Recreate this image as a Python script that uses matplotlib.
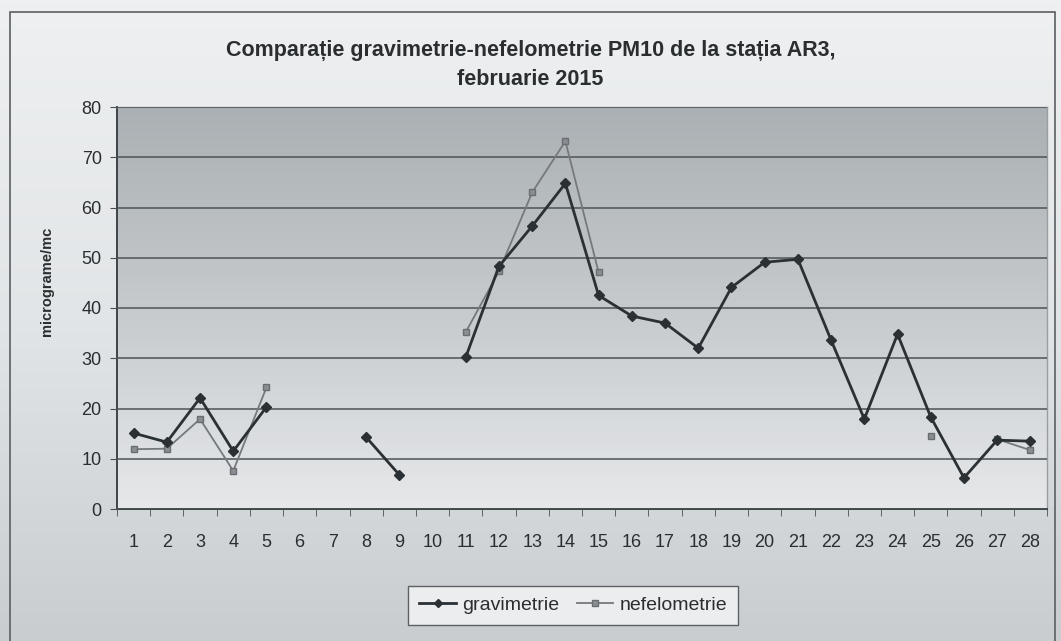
import numpy as np
import matplotlib.pyplot as plt
from matplotlib.colors import LinearSegmentedColormap
from matplotlib.patches import Rectangle

plt.rcParams['font.family'] = ['Liberation Sans', 'DejaVu Sans']

# ─── DATA ────────────────────────────────────────────────────────────────────
zile = list(range(1, 29))
nan = np.nan
gravimetrie = [15.1, 13.3, 22.1, 11.5, 20.3, nan, nan, 14.3, 6.8, nan,
               30.2, 48.3, 56.3, 64.8, 42.5, 38.4, 37.0, 32.0, 44.1, 49.1,
               49.7, 33.6, 17.9, 34.8, 18.3, 6.2, 13.7, 13.5]
nefelometrie = [11.9, 12.0, 17.9, 7.6, 24.2, nan, nan, nan, nan, nan,
                35.2, 47.3, 63.0, 73.2, 47.1, nan, nan, nan, nan, nan,
                nan, nan, nan, nan, 14.5, nan, 13.9, 11.7]

titlu = "Comparație gravimetrie-nefelometrie PM10 de la stația AR3,\nfebruarie 2015"
eticheta_y = "micrograme/mc"

# ─── FIGURE ──────────────────────────────────────────────────────────────────
fig = plt.figure(figsize=(10.61, 6.41), dpi=100)

# scanned-looking chart background (light on top, greyer at the bottom)
bg = fig.add_axes([0, 0, 1, 1], zorder=-2)
bg.imshow(np.linspace(0, 1, 200).reshape(-1, 1), aspect='auto',
          cmap=LinearSegmentedColormap.from_list(
              'bg', ['#eef0f1', '#e2e5e7', '#c9cdd0']),
          extent=[0, 1, 0, 1], origin='upper')
bg.set_xlim(0, 1); bg.set_ylim(0, 1)
bg.axis('off')
bg.add_patch(Rectangle((10 / 1061, -0.01), 1045 / 1061, 1 - 12 / 641 + 0.01,
                       fill=False, edgecolor='#5a5f63', linewidth=1.2))

ax = fig.add_axes([117 / 1061, 1 - 509 / 641, 930 / 1061, 402 / 641])

# plot area gradient
ax.imshow(np.linspace(0, 1, 200).reshape(-1, 1), aspect='auto',
          cmap=LinearSegmentedColormap.from_list(
              'pa', ['#aab0b3', '#c6cacd', '#e6e8ea']),
          extent=[0, 1, 0, 1], transform=ax.transAxes, origin='upper', zorder=0)

ax.plot(zile, nefelometrie, color='#75797d', linewidth=1.3, marker='s',
        markersize=5, markerfacecolor='#8a8e92', markeredgecolor='#6a6e72',
        label='nefelometrie', zorder=3)
ax.plot(zile, gravimetrie, color='#2b3034', linewidth=2.0, marker='D',
        markersize=5.5, markerfacecolor='#2b3034', markeredgecolor='#2b3034',
        label='gravimetrie', zorder=4)

ax.set_xlim(0.5, 28.5)
ax.set_ylim(0, 80)
ax.set_yticks(range(0, 81, 10))
ax.set_xticks(zile)
ax.set_xticks(np.arange(0.5, 29, 1), minor=True)
ax.tick_params(axis='x', which='major', length=0, pad=18, labelsize=13,
               colors='#2a2e31')
ax.tick_params(axis='x', which='minor', length=5, direction='out',
               color='#4a4f53')
ax.tick_params(axis='y', length=5, direction='out', labelsize=13,
               colors='#2a2e31', color='#4a4f53', pad=6)
ax.grid(axis='y', color='#4d5256', linewidth=1.1, zorder=1)
ax.set_axisbelow(False)
for s in ['top', 'right']:
    ax.spines[s].set_color('#9a9ea1')
    ax.spines[s].set_linewidth(1.0)
for s in ['left', 'bottom']:
    ax.spines[s].set_color('#3e4347')
    ax.spines[s].set_linewidth(1.4)

ax.set_ylabel(eticheta_y, fontsize=10.5, fontweight='bold', color='#2a2e31')
ax.yaxis.set_label_coords(-0.068, 0.565)

fig.text(0.5, 1 - 65 / 641, titlu, ha='center', va='center', fontsize=15.5,
         fontweight='bold', color='#2a2e31', linespacing=1.55)

h, l = ax.get_legend_handles_labels()
leg = fig.legend(h[::-1], l[::-1], loc='center',
                 bbox_to_anchor=(573 / 1061, 1 - 605 / 641),
                 ncol=2, fontsize=14, frameon=True, fancybox=False,
                 handlelength=1.9, columnspacing=0.9, handletextpad=0.3,
                 borderpad=0.55)
leg.get_frame().set_edgecolor('#3e4347')
leg.get_frame().set_facecolor('#f4f5f6')
leg.get_frame().set_linewidth(1.0)
for t in leg.get_texts():
    t.set_color('#2a2e31')
for ln in leg.get_lines():
    ln.set_markersize(4)

fig.savefig('out.png', dpi=100)
